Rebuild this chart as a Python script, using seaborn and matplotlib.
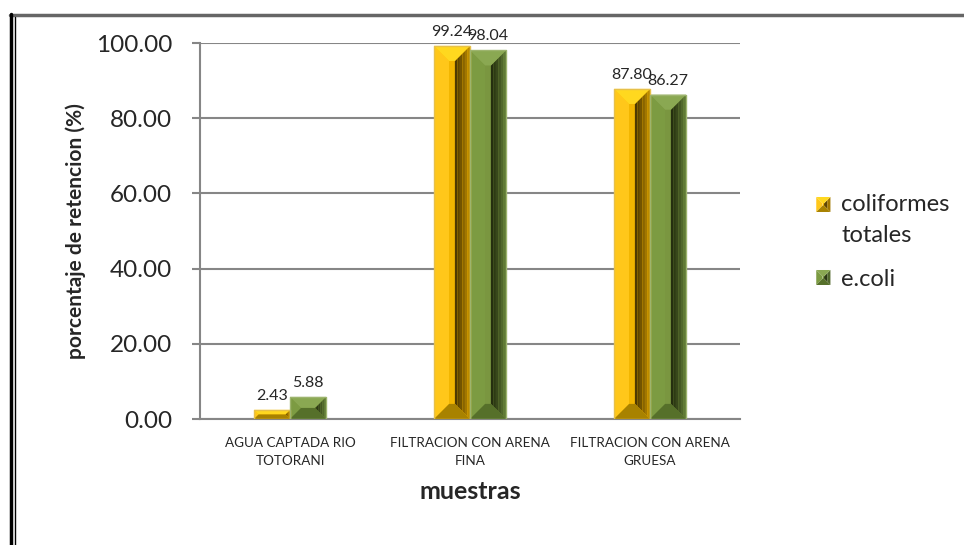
import matplotlib
matplotlib.use("Agg")
import matplotlib.pyplot as plt
import seaborn as sns
import pandas as pd
import numpy as np
from matplotlib.lines import Line2D
from matplotlib.patches import Patch, Polygon
from matplotlib.legend_handler import HandlerBase

categories = ["AGUA CAPTADA RIO\nTOTORANI", "FILTRACION CON ARENA\nFINA", "FILTRACION CON ARENA\nGRUESA"]
series_names = ["coliformes\ntotales", "e.coli"]
coliformes = [2.43, 99.24, 87.80]
ecoli = [5.88, 98.04, 86.27]
yticks = [0, 20, 40, 60, 80, 100]

df = pd.DataFrame({
    "muestra": categories * 2,
    "serie": [series_names[0]] * 3 + [series_names[1]] * 3,
    "valor": coliformes + ecoli,
})

sns.set_theme(style="white")
plt.rcParams['font.family'] = ['Lato', 'DejaVu Sans']

base_cols = {series_names[0]: "#FFC000", series_names[1]: "#77933C"}
facet_cols = {
    series_names[0]: dict(top="#FFD81F", left="#FFC71A", mid="#F2B600", r_in="#4A3600", r_out="#C89500",
                          bottom="#A88200", edge="#E6C04A"),
    series_names[1]: dict(top="#8AA852", left="#7C9B42", mid="#7A9640", r_in="#222B0D", r_out="#66843A",
                          bottom="#56702A", edge="#9DB46E"),
}


def bevel_polys(px0, py0, px1, py1, fc, frac=0.42, nstrip=6):
    """Return list of (points, colour) for a bevelled rectangle in pixel space."""
    wpx, hpx = px1 - px0, py1 - py0
    b = min(frac * wpx, hpx / 2)
    ix0, ix1 = px0 + b, px1 - b
    iy0, iy1 = py0 + b, py1 - b
    out = [
        ([(px0, py0), (ix0, iy0), (ix0, iy1), (px0, py1)], fc["left"]),
        ([(ix0, iy0), (ix1, iy0), (ix1, iy1), (ix0, iy1)], fc["mid"]),
    ]
    cin = np.array(matplotlib.colors.to_rgb(fc["r_in"]))
    cout = np.array(matplotlib.colors.to_rgb(fc["r_out"]))
    xs = np.linspace(ix1, px1, nstrip + 1)
    def ytop(x):
        return iy1 + (x - ix1) / (px1 - ix1) * (py1 - iy1) if px1 > ix1 else py1
    def ybot(x):
        return iy0 + (x - ix1) / (px1 - ix1) * (py0 - iy0) if px1 > ix1 else py0
    for k in range(nstrip):
        xa, xb = xs[k], xs[k + 1]
        t = ((k + 0.5) / nstrip) ** 1.3
        col = cin * (1 - t) + cout * t
        out.append(([(xa, ybot(xa)), (xb, ybot(xb)), (xb, ytop(xb)), (xa, ytop(xa))], tuple(col)))
    out.append(([(px0, py1), (px1, py1), (ix1, iy1), (ix0, iy1)], fc["top"]))
    out.append(([(px0, py0), (px1, py0), (ix1, iy0), (ix0, iy0)], fc["bottom"]))
    return out


class BevelHandler(HandlerBase):
    def __init__(self, shift=None):
        super().__init__()
        self.shift = shift or {}

    def create_artists(self, legend, orig_handle, xdescent, ydescent, width, height, fontsize, trans):
        name = orig_handle.get_label()
        fc = facet_cols[name]
        sh = self.shift.get(name, 0.0)
        x0, y0 = -xdescent, -ydescent + sh
        x1, y1 = x0 + width, y0 + height
        arts = []
        for pts, col in bevel_polys(x0, y0, x1, y1, fc, frac=0.45, nstrip=2):
            arts.append(Polygon(pts, closed=True, facecolor=col, edgecolor="none", transform=trans))
        return arts


fig = plt.figure(figsize=(9.64, 5.45), dpi=100)
ax = fig.add_axes([200/964, 1-419/545, 540/964, 376/545])

sns.barplot(data=df, x="muestra", y="valor", hue="serie", palette=base_cols,
            width=0.4, gap=0, ax=ax, legend=False, saturation=1, linewidth=0)

ax.set_ylim(0, 100)
ax.set_xlim(-0.5, 2.5)
ax.set_yticks(yticks)
ax.set_yticklabels([f"{v:.2f}" for v in yticks], fontsize=17.5)
ax.yaxis.grid(True, color="#868686", linewidth=1.5)
ax.set_axisbelow(True)
for s in ["top", "right"]:
    ax.spines[s].set_visible(False)
for s in ["left", "bottom"]:
    ax.spines[s].set_color("#868686")
    ax.spines[s].set_linewidth(1.5)
ax.tick_params(axis="y", which="major", direction="out", length=6, width=1.5, color="#868686", left=True, pad=14)
ax.tick_params(axis="x", length=0, labelsize=9.7, pad=13)
for t in ax.get_xticklabels():
    t.set_linespacing(1.55)
ax.set_xlabel("muestras", fontsize=18, fontweight="bold", labelpad=10)
ax.set_ylabel("porcentaje de retencion (%)", fontsize=15, fontweight="bold", labelpad=7)

# bevel decoration derived from each bar's geometry
fig.canvas.draw()
inv = ax.transData.inverted()
for cont, name in zip(ax.containers, series_names):
    fc = facet_cols[name]
    for p in cont.patches:
        x0, y0 = p.get_x(), p.get_y()
        w, h = p.get_width(), p.get_height()
        (px0, py0) = ax.transData.transform((x0, y0))
        (px1, py1) = ax.transData.transform((x0 + w, y0 + h))
        for pts, col in bevel_polys(px0, py0, px1, py1, fc):
            arr = inv.transform(np.array(pts))
            ax.fill(arr[:, 0], arr[:, 1], color=col, linewidth=0, zorder=3)
        arr = inv.transform(np.array([(px0, py0), (px1, py0), (px1, py1), (px0, py1), (px0, py0)]))
        ax.plot(arr[:, 0], arr[:, 1], color=fc["edge"], linewidth=1, zorder=4)
    ax.bar_label(cont, fmt="%.2f", fontsize=11.5, padding=5, zorder=5)

handles = [Patch(facecolor=facet_cols[n]["mid"], label=n) for n in series_names]
handler = BevelHandler(shift={series_names[0]: 11.5, series_names[1]: 0.0})
leg = fig.legend(handles=handles, loc="center left", bbox_to_anchor=(795/964, 1-242/545),
                 frameon=False, fontsize=17, handlelength=0.6, handleheight=0.6,
                 handletextpad=0.45, labelspacing=0.95,
                 handler_map={Patch: handler})
for t in leg.get_texts():
    t.set_linespacing(1.6)

# chart frame
fig.add_artist(Line2D([10/964, 1], [1-15/545, 1-15/545], color="#666666", linewidth=2.5))
fig.add_artist(Line2D([11/964, 11/964], [0, 1-14/545], color="black", linewidth=2.5))
fig.add_artist(Line2D([15/964, 15/964], [0, 1-17/545], color="black", linewidth=1))

fig.savefig("out.png", dpi=100)
